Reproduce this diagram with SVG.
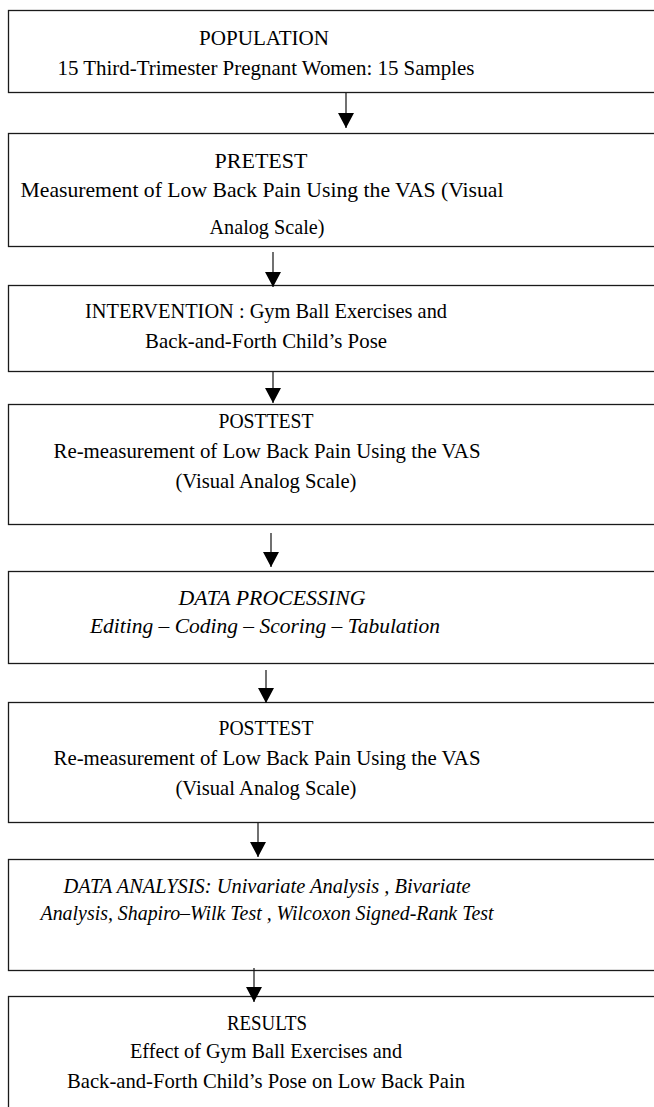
<svg xmlns="http://www.w3.org/2000/svg" width="654" height="1107" viewBox="0 0 654 1107">
<style>
.box{fill:#fff;stroke:#1a1a1a;stroke-width:1.3}
.t{font-family:"Liberation Serif","DejaVu Serif",serif;font-size:22px;fill:#000;text-anchor:middle}
.i{font-style:italic}
.c{stroke:#111;stroke-width:1.2;fill:none;marker-end:url(#ah)}
</style>
<defs>
<marker id="ah" markerUnits="userSpaceOnUse" markerWidth="15" markerHeight="16" viewBox="0 0 15 16" refX="15" refY="8" orient="auto">
<path d="M0,0 L15,8 L0,16 Z" fill="#000"/>
</marker>
</defs>
<rect width="654" height="1107" fill="#fff"/>
<g id="n1"><rect class="box" x="8.5" y="10.5" width="660" height="82"/>
<text class="t" x="264" y="45" textLength="130" lengthAdjust="spacingAndGlyphs">POPULATION</text>
<text class="t" x="266" y="75" textLength="417" lengthAdjust="spacingAndGlyphs">15 Third-Trimester Pregnant Women: 15 Samples</text></g>
<g id="n2"><rect class="box" x="8.5" y="133.5" width="660" height="113"/>
<text class="t" x="261" y="168" textLength="93" lengthAdjust="spacingAndGlyphs">PRETEST</text>
<text class="t" x="262" y="197" textLength="483" lengthAdjust="spacingAndGlyphs">Measurement of Low Back Pain Using the VAS (Visual</text>
<text class="t" x="267" y="234" textLength="115" lengthAdjust="spacingAndGlyphs">Analog Scale)</text></g>
<g id="n3"><rect class="box" x="8.5" y="285.5" width="660" height="86"/>
<text class="t" x="266" y="318" textLength="362" lengthAdjust="spacingAndGlyphs">INTERVENTION : Gym Ball Exercises and</text>
<text class="t" x="266" y="348" textLength="242" lengthAdjust="spacingAndGlyphs">Back-and-Forth Child’s Pose</text></g>
<g id="n4"><rect class="box" x="8.5" y="404.5" width="660" height="120"/>
<text class="t" x="266" y="428" textLength="95" lengthAdjust="spacingAndGlyphs">POSTTEST</text>
<text class="t" x="267" y="458" textLength="427" lengthAdjust="spacingAndGlyphs">Re-measurement of Low Back Pain Using the VAS</text>
<text class="t" x="266" y="488" textLength="181" lengthAdjust="spacingAndGlyphs">(Visual Analog Scale)</text></g>
<g id="n5"><rect class="box" x="8.5" y="571.5" width="660" height="92"/>
<text class="t i" x="272" y="605" textLength="187" lengthAdjust="spacingAndGlyphs">DATA PROCESSING</text>
<text class="t i" x="265" y="633" textLength="350" lengthAdjust="spacingAndGlyphs">Editing – Coding – Scoring – Tabulation</text></g>
<g id="n6"><rect class="box" x="8.5" y="702.5" width="660" height="120"/>
<text class="t" x="266" y="735" textLength="95" lengthAdjust="spacingAndGlyphs">POSTTEST</text>
<text class="t" x="267" y="765" textLength="427" lengthAdjust="spacingAndGlyphs">Re-measurement of Low Back Pain Using the VAS</text>
<text class="t" x="266" y="795" textLength="181" lengthAdjust="spacingAndGlyphs">(Visual Analog Scale)</text></g>
<g id="n7"><rect class="box" x="8.5" y="859.5" width="660" height="111"/>
<text class="t i" x="267" y="893" textLength="407" lengthAdjust="spacingAndGlyphs">DATA ANALYSIS:  Univariate Analysis , Bivariate</text>
<text class="t i" x="267" y="920" textLength="453" lengthAdjust="spacingAndGlyphs">Analysis, Shapiro–Wilk Test , Wilcoxon Signed-Rank Test</text></g>
<g id="n8"><rect class="box" x="8.5" y="996.5" width="660" height="130"/>
<text class="t" x="267" y="1030" textLength="80" lengthAdjust="spacingAndGlyphs">RESULTS</text>
<text class="t" x="266" y="1058" textLength="272" lengthAdjust="spacingAndGlyphs">Effect of Gym Ball Exercises and</text>
<text class="t" x="266" y="1088" textLength="398" lengthAdjust="spacingAndGlyphs">Back-and-Forth Child’s Pose on Low Back Pain</text></g>
<g id="connectors">
<path class="c" d="M346,93 V128"/>
<path class="c" d="M273,252 V287"/>
<path class="c" d="M273,372 V403"/>
<path class="c" d="M271,533 V567"/>
<path class="c" d="M266,670 V703"/>
<path class="c" d="M258,823 V857"/>
<path class="c" d="M254,968 V1002"/>
</g>
</svg>
